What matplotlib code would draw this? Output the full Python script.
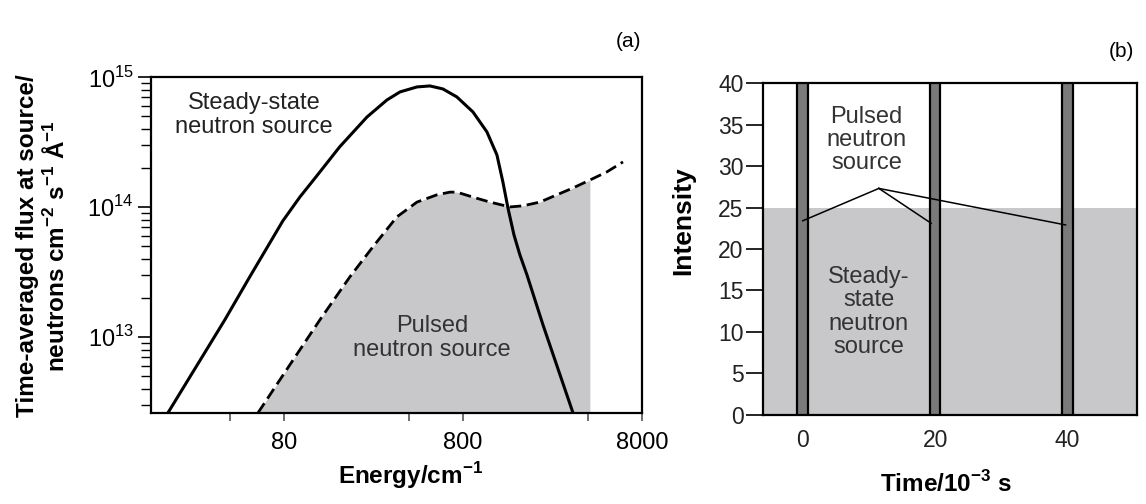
import matplotlib
matplotlib.use("Agg")
import matplotlib.pyplot as plt
import matplotlib.ticker as mticker
import numpy as np

plt.rcParams['font.family'] = ['Liberation Sans', 'DejaVu Sans']
plt.rcParams['mathtext.fontset'] = 'custom'
plt.rcParams['mathtext.rm'] = 'Liberation Sans'
plt.rcParams['mathtext.bf'] = 'Liberation Sans:bold'

# ---------------- Panel (a) data ----------------
steady_E = [18.0, 37.4, 51.6, 64.3, 78.9, 98.2, 122, 164, 233, 301, 356, 443,
            523, 618, 740, 910, 1089, 1239, 1337, 1427, 1542, 1664, 1823,
            2239, 3296]
steady_F = [2.6e12, 1.35e13, 2.9e13, 4.84e13, 7.80e13, 1.19e14, 1.73e14,
            2.90e14, 4.92e14, 6.65e14, 7.67e14, 8.38e14, 8.53e14, 8.09e14,
            7.02e14, 5.38e14, 3.78e14, 2.51e14, 1.56e14, 9.83e13, 6.1e13,
            4.28e13, 3.0e13, 1.24e13, 2.6e12]

pulsed_E = [57.3, 86.4, 127, 187, 251, 342, 443, 573, 677, 740, 910, 1132,
            1465, 1730, 2153, 2680, 3296, 4093, 5093, 6266]
pulsed_F = [2.6e12, 6.1e12, 1.35e13, 2.9e13, 4.92e13, 8.38e13, 1.09e14,
            1.24e14, 1.30e14, 1.30e14, 1.19e14, 1.09e14, 1.0e14, 1.02e14,
            1.09e14, 1.24e14, 1.40e14, 1.61e14, 1.86e14, 2.22e14]
pulsed_shade_end = 4093

xlim_a = (14.5, 8000)
ylim_a = (2.6e12, 1e15)
xmajor_a = [80, 800, 8000]
xminor_a = [40, 400, 4000]
ymajor_a = [1e13, 1e14, 1e15]
ymajor_labels = [r'10$^{13}$', r'10$^{14}$', r'10$^{15}$']

# ---------------- Panel (b) data ----------------
pulse_times = [0, 20, 40]
pulse_width = 1.6
pulse_height = 40
steady_level = 25
xlim_b = (-6, 50.5)
ylim_b = (0, 40)
yticks_b = [0, 5, 10, 15, 20, 25, 30, 35, 40]
xticks_b = [0, 20, 40]
annot_src = (11.5, 27.3)
annot_tgts = [(0, 23.4), (19.4, 23.1), (39.7, 22.9)]

GRAY = '#c8c8ca'

fig = plt.figure(figsize=(11.46, 5.04), dpi=100)

# ---------------- Panel (a) ----------------
ax = fig.add_axes([0.1318, 0.1806, 0.4284, 0.6667])
ax.set_xscale('log')
ax.set_yscale('log')
ax.set_xlim(*xlim_a)
ax.set_ylim(*ylim_a)

pE = np.array(pulsed_E)
pF = np.array(pulsed_F)
m = pE <= pulsed_shade_end
ax.fill_between(pE[m], pF[m], ylim_a[0], color=GRAY, linewidth=0, zorder=1)
ax.plot(pulsed_E, pulsed_F, color='black', lw=2.0, ls=(0, (4.2, 2.0)), zorder=3)
ax.plot(steady_E, steady_F, color='black', lw=2.2, zorder=4,
        solid_joinstyle='round')

ax.xaxis.set_major_locator(mticker.FixedLocator(xmajor_a))
ax.xaxis.set_minor_locator(mticker.FixedLocator(xminor_a))
ax.xaxis.set_major_formatter(mticker.FixedFormatter([str(v) for v in xmajor_a]))
ax.xaxis.set_minor_formatter(mticker.NullFormatter())
ax.yaxis.set_major_locator(mticker.FixedLocator(ymajor_a))
ax.yaxis.set_major_formatter(mticker.FixedFormatter(ymajor_labels))
ax.yaxis.set_minor_locator(mticker.LogLocator(base=10, subs=np.arange(2, 10)))
ax.yaxis.set_minor_formatter(mticker.NullFormatter())

ax.tick_params(axis='x', which='both', direction='out', length=6, width=1.2,
               labelsize=17, pad=8, color='#555555')
ax.tick_params(axis='y', which='major', direction='out', length=9.5, width=1.2,
               labelsize=17, pad=3)
ax.tick_params(axis='y', which='minor', direction='out', length=7, width=1.0)
for s in ax.spines.values():
    s.set_linewidth(1.6)

ax.text(0.210, 0.887, 'Steady-state\nneutron source', transform=ax.transAxes,
        ha='center', va='center', fontsize=17, color='#222222', linespacing=1.07)
ax.text(0.572, 0.223, 'Pulsed\nneutron source', transform=ax.transAxes,
        ha='center', va='center', fontsize=17, color='#333333', linespacing=1.07)

fig.text(0.548, 0.917, '(a)', ha='center', va='center', fontsize=15)
fig.text(0.358, 0.056, r'Energy/cm$^{\mathbf{-1}}$', ha='center', va='center',
         fontsize=17.5, fontweight='bold')
fig.text(0.037, 0.512,
         'Time-averaged flux at source/\n'
         r'neutrons cm$^{\mathbf{-2}}$ s$^{\mathbf{-1}}$ Å$^{\mathbf{-1}}$',
         ha='center', va='center', rotation=90, fontsize=17.5, fontweight='bold',
         multialignment='center', linespacing=1.2)

# ---------------- Panel (b) ----------------
bx = fig.add_axes([0.6658, 0.1766, 0.3264, 0.6587])
bx.set_xlim(*xlim_b)
bx.set_ylim(*ylim_b)
bx.axhspan(0, steady_level, color=GRAY, lw=0, zorder=1)
bx.bar(pulse_times, pulse_height, width=pulse_width, bottom=0,
       color='#7a7a7a', edgecolor='black', linewidth=1.6, zorder=3)

for tx, ty in annot_tgts:
    bx.plot([annot_src[0], tx], [annot_src[1], ty], color='black', lw=1.1, zorder=4)

bx.set_yticks(yticks_b)
bx.set_xticks(xticks_b)
bx.tick_params(axis='y', direction='out', length=12, width=1.2, labelsize=16.5,
               pad=2, labelcolor='#222222')
bx.tick_params(axis='x', length=0, labelsize=16.5, pad=10, labelcolor='#222222')
for s in bx.spines.values():
    s.set_linewidth(1.6)

bx.text(9.65, 33.1, 'Pulsed\nneutron\nsource', ha='center', va='center',
        fontsize=17, color='#333333', linespacing=1.07, zorder=5)
bx.text(9.95, 12.4, 'Steady-\nstate\nneutron\nsource', ha='center', va='center',
        fontsize=17, color='#333333', linespacing=1.07, zorder=5)

fig.text(0.979, 0.897, '(b)', ha='center', va='center', fontsize=15)
fig.text(0.825, 0.040, r'Time/10$^{\mathbf{-3}}$ s', ha='center', va='center',
         fontsize=17.5, fontweight='bold')
fig.text(0.596, 0.563, 'Intensity', ha='center', va='center', rotation=90,
         fontsize=19, fontweight='bold')

fig.savefig('out.png', dpi=100)
